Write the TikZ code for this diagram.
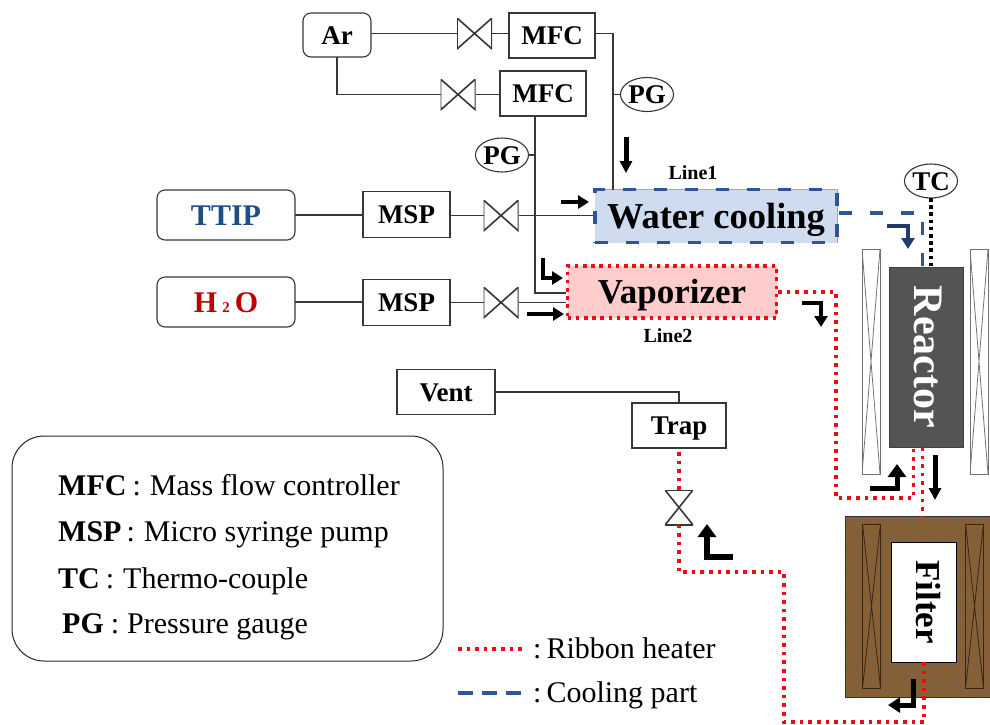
\documentclass[tikz,border=0pt]{standalone}
\usepackage{fontspec}
\setmainfont{Liberation Serif}
\usetikzlibrary{positioning,arrows.meta,shapes.geometric,calc,patterns}
\definecolor{coolblue}{RGB}{47,85,151}
\definecolor{coolfill}{RGB}{207,220,240}
\definecolor{ttipblue}{RGB}{31,78,135}
\definecolor{heatred}{RGB}{240,10,20}
\definecolor{heatfill}{RGB}{255,204,204}
\definecolor{filterbrown}{RGB}{140,95,48}
\definecolor{pipegray}{RGB}{55,55,55}
\tikzset{
  pipe/.style={line width=1.1pt,draw=pipegray},
  unit/.style={pipe,rectangle,inner sep=0pt,outer sep=0pt,text height=18pt,text depth=0pt,font=\bfseries\fontsize{27}{27}\selectfont},
  source/.style={unit,rounded corners=8pt},
  gauge/.style={pipe,ellipse,inner sep=0pt,outer sep=0pt,minimum width=52pt,minimum height=34pt,text height=18pt,text depth=0pt,font=\bfseries\fontsize{27}{27}\selectfont},
  valveh/.style={minimum width=35pt,minimum height=31pt,inner sep=0pt,outer sep=0pt,
    path picture={\draw[pipe,line width=1.6pt] (path picture bounding box.north west) -- (path picture bounding box.south east)
      -- (path picture bounding box.north east) -- (path picture bounding box.south west) -- cycle;}},
  valvev/.style={minimum width=28pt,minimum height=35pt,inner sep=0pt,outer sep=0pt,
    path picture={\draw[pipe,line width=1.6pt] (path picture bounding box.north west) -- (path picture bounding box.north east)
      -- (path picture bounding box.south west) -- (path picture bounding box.south east) -- cycle;}},
  coil/.style={draw=#1,line width=0.9pt,minimum width=18pt,inner sep=0pt,outer sep=0pt,
    path picture={\draw[#1,line width=0.8pt] (path picture bounding box.north west) -- (path picture bounding box.south east)
      (path picture bounding box.north east) -- (path picture bounding box.south west);}},
  heater/.style={line width=3.4pt,draw=heatred,dash pattern=on 3.6pt off 5pt},
  cooling/.style={line width=3.6pt,draw=coolblue,dash pattern=on 13pt off 18pt},
  flow/.style={line width=4.5pt,draw=black,-{Triangle[length=11pt,width=13pt]}},
  bigflow/.style={line width=5.5pt,draw=black,-{Triangle[length=13pt,width=18pt]}},
  legendtext/.style={anchor=base west,inner sep=0pt,font=\fontsize{30}{30}\selectfont}
}

\begin{document}
\begin{tikzpicture}[x=1pt,y=-1pt]
  \useasboundingbox (0,0) rectangle (990,724);
  % gas lines
  \node[source,minimum width=68pt,minimum height=44pt] (ar) at (337,35) {Ar};
  \node[valveh] (valveA) at (474.5,33.5) {};
  \node[unit,minimum width=86pt,minimum height=45pt] (mfcA) at (552,35.5) {MFC};
  \node[valveh] (valveB) at (458,94.5) {};
  \node[unit,minimum width=86pt,minimum height=45pt] (mfcB) at (543,93.5) {MFC};
  \node[gauge] (pgA) at (647,94.5) {PG};
  \node[gauge] (pgB) at (502,155) {PG};
  % liquid lines
  \node[source,minimum width=138pt,minimum height=50pt,text=ttipblue,text height=20pt,font=\bfseries\fontsize{30}{30}\selectfont] (ttip) at (226,215) {TTIP};
  \node[unit,minimum width=87pt,minimum height=46pt] (mspA) at (406.5,214.5) {MSP};
  \node[valveh] (valveC) at (501,215.5) {};
  \node[source,minimum width=138pt,minimum height=50pt,text=red!75!black,text height=20pt,font=\bfseries\fontsize{30}{30}\selectfont] (water) at (226,302) {H\,{\fontsize{15}{15}\selectfont 2}\,O};
  \node[unit,minimum width=87pt,minimum height=46pt] (mspB) at (406.5,302.5) {MSP};
  \node[valveh] (valveD) at (501,302.5) {};
  % process units
  \node[rectangle,preaction={draw=black!35,line width=1pt,solid},fill=coolfill,draw=coolblue,line width=3.6pt,dash pattern=on 13pt off 18pt,inner sep=0pt,minimum width=242pt,minimum height=53pt,text height=24pt,text depth=0pt,font=\bfseries\fontsize{36.5}{36.5}\selectfont] (cooler) at (716,216) {Water cooling};
  \node[rectangle,fill=heatfill,draw=heatred,line width=3.4pt,dash pattern=on 3.6pt off 4.6pt,inner sep=0pt,minimum width=209pt,minimum height=52pt,text height=23pt,text depth=0pt,font=\bfseries\fontsize{35}{35}\selectfont] (vapor) at (672,292) {Vaporizer};
  \node[font=\bfseries\fontsize{20}{20}\selectfont,inner sep=0pt] (lineA) at (693,173) {Line1};
  \node[font=\bfseries\fontsize{20}{20}\selectfont,inner sep=0pt] (lineB) at (668,336) {Line2};
  \node[gauge] (tc) at (931,181) {TC};
  \node[rectangle,fill=black!67,draw=black!75,line width=1pt,inner sep=0pt,minimum width=74pt,minimum height=180pt,text=white,font=\bfseries\fontsize{42}{42}\selectfont] (reactor) at (926,357) {\hspace*{4pt}\rotatebox{-90}{Reactor}};
  \node[coil=black!55,minimum height=225pt] (coilA) at (871,361.5) {};
  \node[coil=black!55,minimum height=225pt] (coilB) at (979,361.5) {};
  % filter
  \node[rectangle,preaction={fill=filterbrown},pattern=crosshatch dots,pattern color=black!60,draw=black!80,line width=1pt,minimum width=160pt,minimum height=181pt,inner sep=0pt] (furnace) at (925,606.5) {};
  \node[rectangle,fill=white,draw=black,line width=1pt,minimum width=65pt,minimum height=120pt,inner sep=0pt,font=\bfseries\fontsize{35}{35}\selectfont] (filter) at (923.5,602) {\hspace*{9pt}\rotatebox{-90}{Filter}};
  \node[coil=black!70!brown,minimum height=164pt] (coilC) at (871.5,606) {};
  \node[coil=black!70!brown,minimum height=164pt] (coilD) at (974.5,606) {};
  % exhaust
  \node[unit,minimum width=98pt,minimum height=45pt] (vent) at (446,392) {Vent};
  \node[unit,minimum width=94pt,minimum height=45pt] (trap) at (679,425.5) {Trap};
  \node[valvev] (valveE) at (679,507.5) {};
  % junctions
  \coordinate (jA) at (613,190);
  \coordinate (jB) at (535,293);
  \coordinate (jC) at (922.5,266);
  \coordinate (jD) at (913.5,447);
  \coordinate (jE) at (922.5,447);
  \coordinate (jF) at (922.5,516);
  \coordinate (jG) at (924,662);
  \coordinate (jH) at (784,722);
  \coordinate (jI) at (679,572);
  \coordinate (jJ) at (836,498);
  \coordinate (jK) at (922.5,213);
  \coordinate (jL) at (931,266);
  % pipes
  \draw[pipe] (ar.east |- valveA.west) -- (valveA.west);
  \draw[pipe] (valveA.east) -- (valveA.east -| mfcA.west);
  \draw[pipe] (mfcA.east |- valveA.east) -| (jA);
  \draw[pipe] (pgA.west) -- (pgA.west -| jA);
  \draw[pipe] (ar.south) |- (valveB.west);
  \draw[pipe] (valveB.east) -- (valveB.east -| mfcB.west);
  \draw[pipe] (mfcB.south -| jB) |- (vapor.west |- jB);
  \draw[pipe] (pgB.east) -- (pgB.east -| jB);
  \draw[pipe] (ttip.east) -- (mspA.west |- ttip.east);
  \draw[pipe] (mspA.east |- valveC.west) -- (valveC.west);
  \draw[pipe] (valveC.east) -- (valveC.east -| cooler.west);
  \draw[pipe] (water.east) -- (mspB.west |- water.east);
  \draw[pipe] (mspB.east |- valveD.west) -- (valveD.west);
  \draw[pipe] (valveD.east) -- (valveD.east -| vapor.west);
  \draw[pipe] (vent.east) -| (trap.north);
  % heated and cooled lines
  \draw[cooling] (cooler.east |- jK) -- (jK) -- (jC);
  \draw[line width=3.6pt,dash pattern=on 3.6pt off 3.6pt] (tc.south) -- (jL);
  \draw[heater] (vapor.east) -| (jJ) -| (jD);
  \draw[heater] (jE) -- (jF);
  \draw[heater] (jG) |- (jH) |- (jI) -- (valveE.south);
  \draw[heater] (valveE.north) -- (trap.south);
  % flow arrows
  \draw[flow,line width=5pt,-{Triangle[length=12pt,width=12pt]}] (626,137) -- (626,173);
  \draw[flow,line width=4pt] (561,202) -- (589,202);
  \draw[flow,line width=4pt] (543,258) |- (563,278);
  \draw[flow] (527,314) -- (564,314);
  \draw[flow,draw=coolblue!70!black] (887,226) -| (908,249);
  \draw[flow] (802,303) -| (821,327);
  \draw[bigflow,line width=5pt] (870,488) -| (897,464);
  \draw[flow,line width=5pt,-{Triangle[length=12pt,width=12pt]}] (935,455) -- (935,500);
  \draw[bigflow] (733,557) -| (707,524);
  \draw[bigflow,line width=5pt,-{Triangle[length=12pt,width=15pt]}] (913,679) |- (888,705);
  % key
  \node[draw=black!85,line width=1pt,rounded corners=32pt,minimum width=431pt,minimum height=225pt,inner sep=0pt] (key) at (227.5,548.5) {};
  \node[legendtext] (keyA) at (58,495) {\textbf{MFC}\hspace{6pt}:\hspace{9pt}Mass flow controller};
  \node[legendtext] (keyB) at (58,541) {\textbf{MSP}\hspace{5pt}:\hspace{9pt}Micro syringe pump};
  \node[legendtext] (keyC) at (58,588) {\textbf{TC}\hspace{6pt}:\hspace{9pt}Thermo-couple};
  \node[legendtext] (keyD) at (62,633) {\textbf{PG}\hspace{7pt}:\hspace{8pt}Pressure gauge};
  \coordinate (ribbonA) at (458,649);
  \coordinate (ribbonB) at (526,649);
  \coordinate (coolA) at (458,693);
  \coordinate (coolB) at (526,693);
  \draw[heater] (ribbonA) -- (ribbonB);
  \draw[line width=3.6pt,draw=coolblue,dash pattern=on 15pt off 9pt] (coolA) -- (coolB);
  \node[legendtext] (ribbonT) at (533,658) {:\,Ribbon heater};
  \node[legendtext] (coolT) at (533,702) {:\,Cooling part};
\end{tikzpicture}
\end{document}
